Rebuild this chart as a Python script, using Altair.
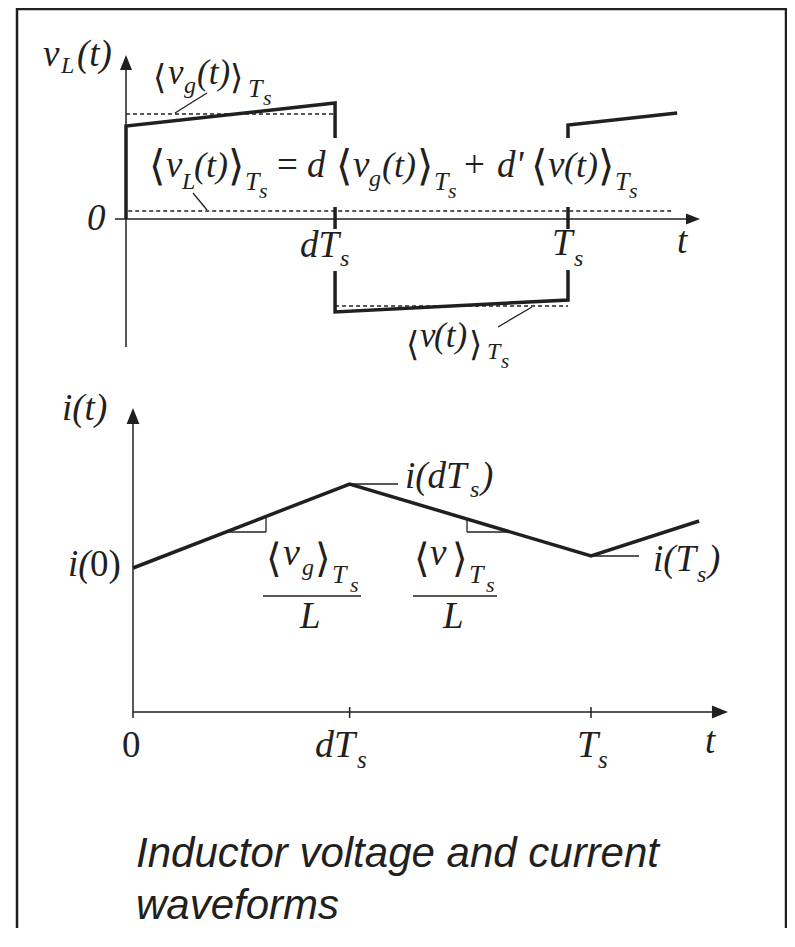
import altair as alt
import pandas as pd

# ------------------------------------------------------------------ data
d = 0.473                                   # duty cycle: dTs / Ts
# inductor voltage v_L(t) (top panel), t in units of Ts
vL_t = [0.0, 0.0, d, d, 1.0, 1.0, 1.247]
vL_v = [0.0, 1.86, 2.32, -1.86, -1.62, 1.88, 2.12]
vg_avg = 2.10                               # <v_g(t)>_Ts
v_avg = -1.74                               # <v(t)>_Ts
vL_avg = 0.16                               # <v_L(t)>_Ts
vL_avg_span = [0.005, 1.237]
# inductor current i(t) (bottom panel)
iL_t = [0.0, d, 1.0, 1.236]
iL_i = [2.88, 4.56, 3.12, 3.82]

title_lines = ["Inductor voltage and current", "waveforms"]

# ------------------------------------------------------------------ layout
W, H = 779, 920
OX, OY = 8, 8
INK = "#231f20"


def dom(p_a, v_a, p_b, v_b, lo, hi):
    k = (p_b - p_a) / (v_b - v_a)
    return [v_a + (lo - p_a) / k, v_a + (hi - p_a) / k]


def S(domain, reverse=False):
    if reverse:
        return alt.Scale(domain=domain, nice=False, zero=False, reverse=True)
    return alt.Scale(domain=domain, nice=False, zero=False)


TX = S(dom(126, 0, 568, 1, OX, OX + W))
TY = S(dom(219, 0, 169, 1, OY + H, OY))
BX = S(dom(133, 0, 591, 1, OX, OX + W))
BY = S(dom(712, 0, 662, 1, OY + H, OY))
PX = S([OX, OX + W])
PY = S([OY, OY + H], reverse=True)


def seg_chart(df, sx, sy, **mk):
    return alt.Chart(df).mark_rule(color=INK, **mk).encode(
        x=alt.X("x:Q", scale=sx, axis=None),
        x2="x2:Q",
        y=alt.Y("y:Q", scale=sy, axis=None),
        y2="y2:Q",
    )


def segs(rows):
    return pd.DataFrame(rows, columns=["x", "y", "x2", "y2"])


def arrow(x, y, shape, size, sx, sy):
    return alt.Chart(pd.DataFrame({"x": [x], "y": [y]})).mark_point(
        shape=shape, size=size, filled=True, opacity=1, color=INK, strokeWidth=0
    ).encode(x=alt.X("x:Q", scale=sx, axis=None), y=alt.Y("y:Q", scale=sy, axis=None))


UP = "M0,0L-0.8,2L0.8,2Z"
RIGHT = "M0,0L-2,-0.8L-2,0.8Z"

# ---------------- background: frame (page pixel units)
frame = seg_chart(segs([[17, 8, 17, OY + H], [16, 9, 787, 9], [786, 8, 786, OY + H]]), PX, PY, strokeWidth=2.5)
bg = alt.layer(frame)

# ---------------- top panel
wave_top = alt.Chart(pd.DataFrame({"idx": range(len(vL_t)), "t": vL_t, "v": vL_v})).mark_line(
    color=INK, strokeWidth=3.5, strokeJoin="miter", strokeCap="butt"
).encode(
    x=alt.X("t:Q", scale=TX, axis=None),
    y=alt.Y("v:Q", scale=TY, axis=None),
    order=alt.Order("idx:Q"),
)
avg_df = segs([[0, vg_avg, d, vg_avg], [d, v_avg, 1, v_avg], [vL_avg_span[0], vL_avg, vL_avg_span[1], vL_avg]])
avg_top = seg_chart(avg_df, TX, TY, strokeWidth=1.4, strokeDash=[4, 3])
axes_top = seg_chart(segs([[0, -2.56, 0, 3.0], [-0.025, 0, 1.28, 0]]), TX, TY, strokeWidth=1.5)
top = alt.layer(
    wave_top,
    avg_top,
    axes_top,
    arrow(0, 3.28, UP, 225, TX, TY),
    arrow(1.2986, 0, RIGHT, 196, TX, TY),
)

# ---------------- masks (white gaps behind labels crossing the waveform)
masks = alt.Chart(pd.DataFrame({
    "x": [145, 296, 548], "x2": [645, 357, 587], "y": [138, 229, 229], "y2": [207, 271, 270]
})).mark_rect(color="white").encode(
    x=alt.X("x:Q", scale=PX, axis=None), x2="x2:Q", y=alt.Y("y:Q", scale=PY, axis=None), y2="y2:Q"
)

# ---------------- bottom panel
wave_bot = alt.Chart(pd.DataFrame({"idx": range(len(iL_t)), "t": iL_t, "i": iL_i})).mark_line(
    color=INK, strokeWidth=3.5, strokeJoin="miter", strokeCap="butt"
).encode(
    x=alt.X("t:Q", scale=BX, axis=None),
    y=alt.Y("i:Q", scale=BY, axis=None),
    order=alt.Order("idx:Q"),
)
axes_bot = seg_chart(
    segs([[0, -0.12, 0, 5.8], [0, 0, 1.28, 0], [d, -0.12, d, 0.1], [1, -0.12, 1, 0.1]]), BX, BY, strokeWidth=1.5
)
bottom = alt.layer(
    wave_bot,
    axes_bot,
    arrow(0, 6.08, UP, 256, BX, BY),
    arrow(1.299, 0, RIGHT, 256, BX, BY),
)

# ---------------- annotations (page pixel units)
thin = seg_chart(segs([
    [175, 113, 207, 93], [193, 193, 207, 210], [498, 327, 532, 307],
    [350, 484, 398, 484], [591, 556, 639, 556],
    [226, 532, 266, 532], [266, 532, 266, 517],
    [467, 519, 467, 532], [467, 532, 509, 532],
]), PX, PY, strokeWidth=1.3)
bars = seg_chart(segs([[263, 596, 361, 596], [413, 596, 497, 596]]), PX, PY, strokeWidth=1.5)

serif_it = [
    ("v", 43, 66, 37), ("L", 61, 73, 24), ("(t)", 77, 66, 37),
    ("0", 87, 230, 37),
    ("v", 168, 84, 35), ("g", 184, 93, 24), ("(t)", 197, 84, 35), ("T", 248, 97, 26), ("s", 263, 105, 22),
    ("v", 166, 177, 37), ("L", 182, 189, 24), ("(t)", 194, 177, 36), ("T", 245, 190, 26), ("s", 259, 198, 22),
    ("d", 307, 177, 37), ("v", 353, 177, 37), ("g", 369, 186, 24), ("(t)", 382, 177, 36),
    ("T", 434, 190, 26), ("s", 448, 198, 22),
    ("d'", 497, 177, 37), ("v", 548, 177, 37), ("(t)", 564, 177, 36), ("T", 615, 190, 26), ("s", 629, 198, 22),
    ("dT", 300, 257, 37), ("s", 340, 266, 24), ("T", 552, 255, 37), ("s", 574, 266, 24), ("t", 677, 253, 37),
    ("v", 420, 347, 35), ("(t)", 434, 347, 35), ("T", 487, 359, 24), ("s", 501, 368, 21),
    ("i(t)", 62, 420, 37), ("i(", 68, 576, 37),
    ("i(dT", 405, 488, 37), ("s", 470, 497, 24), (")", 481, 488, 37),
    ("i(T", 653, 571, 37), ("s", 697, 582, 24), (")", 708, 571, 37),
    ("v", 283, 565, 38), ("g", 302, 575, 24), ("T", 332, 583, 26), ("s", 350, 592, 22), ("L", 300, 628, 37),
    ("v", 430, 565, 37), ("T", 469, 583, 26), ("s", 486, 592, 22), ("L", 443, 628, 37),
    ("dT", 315, 757, 38), ("s", 357, 768, 25), ("T", 577, 757, 38), ("s", 598, 768, 25), ("t", 705, 753, 37),
]
serif_up = [("=", 277, 177, 37), ("+", 464, 177, 37), ("0", 122, 757, 37), ("0)", 90, 576, 37)]
brackets = [
    ("⟨", 153, 89, 34), ("⟩", 230, 89, 34),
    ("⟨", 149, 180, 42), ("⟩", 228, 180, 42), ("⟨", 336, 180, 42), ("⟩", 417, 180, 42),
    ("⟨", 531, 180, 42), ("⟩", 598, 180, 42),
    ("⟨", 406, 356, 34), ("⟩", 469, 356, 34),
    ("⟨", 266, 572, 40), ("⟩", 315, 572, 40), ("⟨", 414, 572, 40), ("⟩", 452, 572, 40),
]
title_rows = [(title_lines[0], 136, 867, 42), (title_lines[1], 136, 919, 42)]


def text_layer(rows, font, style="normal", weight="normal"):
    df = pd.DataFrame(rows, columns=["text", "x", "y", "fs"])
    return alt.Chart(df).mark_text(
        align="left", baseline="alphabetic", font=font, fontStyle=style, fontWeight=weight, color=INK
    ).encode(
        x=alt.X("x:Q", scale=PX, axis=None),
        y=alt.Y("y:Q", scale=PY, axis=None),
        text="text:N",
        size=alt.Size("fs:Q", scale=None, legend=None),
    )


annot = alt.layer(
    thin,
    bars,
    text_layer(serif_it, "Liberation Serif", "italic"),
    text_layer(serif_up, "Liberation Serif"),
    text_layer(brackets, "DejaVu Sans"),
    text_layer(title_rows, "Liberation Sans", "italic"),
)

chart = (
    alt.layer(bg, top, masks, bottom, annot)
    .resolve_scale(x="independent", y="independent")
    .properties(width=W, height=H, padding=0, autosize=alt.AutoSizeParams(type="none"), background="white")
    .configure_view(stroke=None)
)

chart.save("out.html", embed_options={"renderer": "svg", "actions": False})
